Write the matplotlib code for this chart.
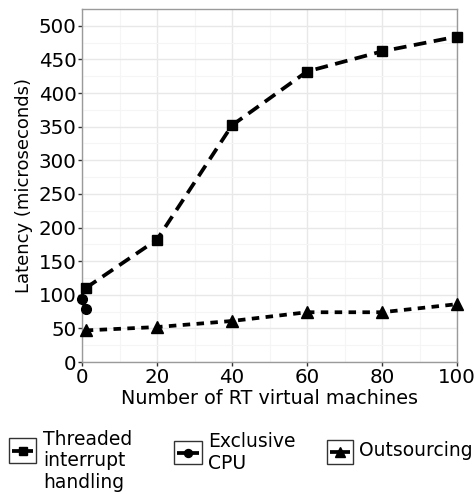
import matplotlib
matplotlib.use("Agg")
import matplotlib.pyplot as plt
from matplotlib.patches import Rectangle
from matplotlib.lines import Line2D

threaded_x = [1, 20, 40, 60, 80, 100]
threaded_y = [110, 182, 352, 432, 462, 484]
exclusive_x = [0, 1]
exclusive_y = [94, 79]
outsourcing_x = [1, 20, 40, 60, 80, 100]
outsourcing_y = [47, 52, 61, 74, 74, 86]
labels = ["Threaded\ninterrupt\nhandling", "Exclusive\nCPU", "Outsourcing"]
xticks = [0, 20, 40, 60, 80, 100]
yticks = [0, 50, 100, 150, 200, 250, 300, 350, 400, 450, 500]

plt.rcParams['font.family'] = ['DejaVu Sans']

W, H = 475, 494
fig = plt.figure(figsize=(W / 100, H / 100), dpi=100)
ax = fig.add_axes([82 / W, 1 - 362 / H, (457 - 82) / W, (362 - 9) / H])

lw = 2.7
styles = [
    dict(ls=(0, (3.4, 2.0)), marker='s', ms=7.5),
    dict(ls='-', marker='o', ms=7.0),
    dict(ls=(0, (2.0, 1.7)), marker='^', ms=8.5),
]
series = [(threaded_x, threaded_y), (exclusive_x, exclusive_y), (outsourcing_x, outsourcing_y)]
for (xs, ys), st in zip(series, styles):
    ax.plot(xs, ys, color='black', lw=lw, clip_on=False, zorder=3, **st)

ax.set_xlim(0, 100)
ax.set_ylim(0, 525)
ax.set_xticks(xticks)
ax.set_yticks(yticks)
ax.set_xticks([10, 30, 50, 70, 90], minor=True)
ax.set_yticks([25 + 50 * i for i in range(10)], minor=True)
ax.grid(True, which='major', color='#e8e8e8', lw=1.0)
ax.grid(True, which='minor', color='#f5f5f5', lw=0.8)
ax.set_axisbelow(True)
for s in ax.spines.values():
    s.set_color('#9a9a9a')
    s.set_linewidth(1.0)
ax.tick_params(axis='both', which='major', labelsize=14.3, length=3, width=1, color='#333333', pad=1, labelcolor='black')
ax.tick_params(axis='both', which='minor', length=0)
ax.set_xlabel("Number of RT virtual machines", fontsize=13.8, labelpad=2)
ax.set_ylabel("Latency (microseconds)", fontsize=13, labelpad=4)

# legend (manual, pixel positions)
def fx(px):
    return px / W

def fy(py):
    return 1 - py / H

boxes = [(9, 438, 36, 463), (174, 441, 202, 464), (327, 440, 353, 464)]
text_x = [43, 208, 359]
text_base = [[445, 466.5, 488], [447, 468.5], [456]]
for (x0, y0, x1, y1), st, lab, tx, tbs in zip(boxes, styles, labels, text_x, text_base):
    fig.add_artist(Rectangle((fx(x0), fy(y1)), fx(x1) - fx(x0), fy(y0) - fy(y1), transform=fig.transFigure,
                             fill=False, ec='#333333', lw=1.0))
    ym = fy((y0 + y1) / 2)
    fig.add_artist(Line2D([fx(x0 + 3), fx(x1 - 3)], [ym, ym], transform=fig.transFigure, color='black',
                          lw=lw, ls='-', solid_capstyle='butt'))
    fig.add_artist(Line2D([fx((x0 + x1) / 2)], [ym], transform=fig.transFigure, color='black',
                          marker=st['marker'], ms=st['ms'] * 0.82, ls='none'))
    for line, b in zip(lab.split("\n"), tbs):
        fig.text(fx(tx), fy(b), line, fontsize=13.5, ha='left', va='baseline')

fig.savefig("out.png", dpi=100)
